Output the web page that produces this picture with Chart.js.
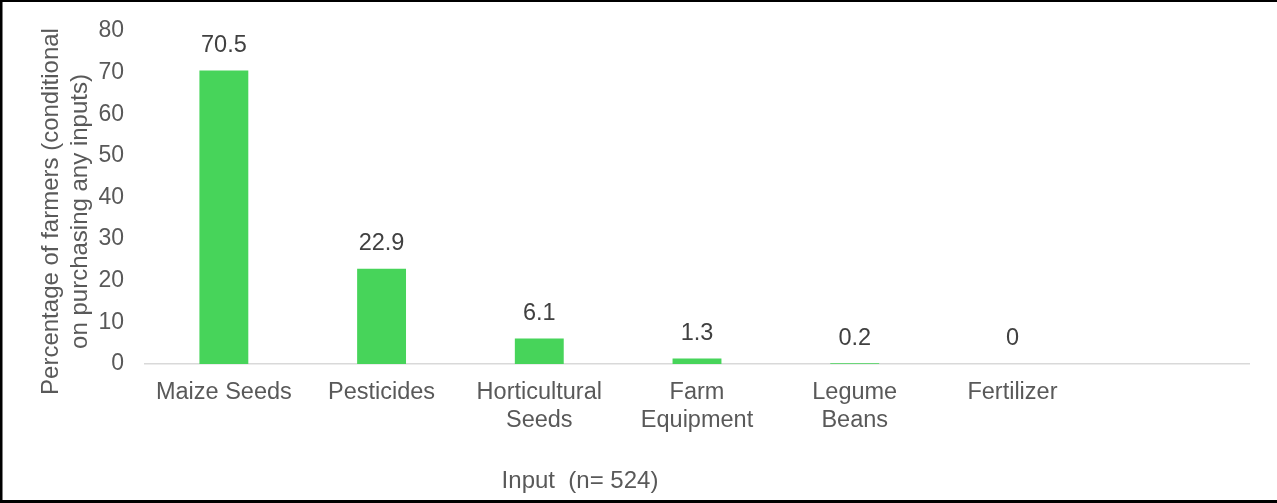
<!DOCTYPE html>
<html>
<head>
<meta charset="utf-8">
<title>Inputs purchased by farmers</title>
<script src="https://cdn.jsdelivr.net/npm/chart.js@4/dist/chart.umd.min.js"></script>
<style>
  html, body { margin: 0; padding: 0; background: #fff; }
  canvas { display: block; }
</style>
</head>
<body>
<canvas id="inputChart" width="1277" height="503"></canvas>
<script>
// Share of farmers buying each input (conditional on buying any)
const categories = ['Maize Seeds', 'Pesticides', ['Horticultural', 'Seeds'], ['Farm', 'Equipment'], ['Legume', 'Beans'], 'Fertilizer', ''];
const percentages = [70.5, 22.9, 6.1, 1.3, 0.2, 0, null];
const yTitleLines = ['Percentage of farmers (conditional', 'on purchasing any inputs)'];
const xTitle = 'Input  (n= 524)';

const FONT = '"Liberation Sans", Arial, sans-serif';
const BAR_GREEN = '#47D45A';
const TEXT_GREY = '#595959';

// white page + black frame (top, left, bottom)
const framePlugin = {
    id: 'frame',
    beforeDraw(chart) {
        const ctx = chart.ctx;
        ctx.save();
        ctx.fillStyle = '#ffffff';
        ctx.fillRect(0, 0, chart.width, chart.height);
        ctx.restore();
    },
    afterDraw(chart) {
        const ctx = chart.ctx;
        ctx.save();
        ctx.fillStyle = '#000000';
        ctx.fillRect(0, 0, chart.width, 2);
        ctx.fillRect(0, 0, 2.5, chart.height);
        ctx.fillRect(0, chart.height - 3, chart.width, 3);
        ctx.restore();
    }
};

// value printed above each bar
const valueLabels = {
    id: 'valueLabels',
    afterDatasetsDraw(chart) {
        const ctx = chart.ctx;
        const meta = chart.getDatasetMeta(0);
        ctx.save();
        ctx.font = '23.5px ' + FONT;
        ctx.fillStyle = '#404040';
        ctx.textAlign = 'center';
        ctx.textBaseline = 'middle';
        meta.data.forEach((bar, i) => {
            const v = percentages[i];
            if (v === null || v === undefined) return;
            ctx.fillText(String(v), bar.x, bar.y - 25);
        });
        ctx.restore();
    }
};

// axis titles drawn by hand so they can sit off-centre like the original layout
const axisTitles = {
    id: 'axisTitles',
    afterDraw(chart) {
        const ctx = chart.ctx;
        const area = chart.chartArea;
        ctx.save();
        ctx.font = '24px ' + FONT;
        ctx.fillStyle = TEXT_GREY;
        ctx.textAlign = 'center';
        ctx.textBaseline = 'middle';

        const midY = (area.top + area.bottom) / 2 + 14;
        ctx.save();
        ctx.translate(51, midY);
        ctx.rotate(-Math.PI / 2);
        ctx.fillText(yTitleLines[0], 0, 0);
        ctx.fillText(yTitleLines[1], 0, 29);
        ctx.restore();

        ctx.fillText(xTitle, 580, 481);
        ctx.restore();
    }
};

new Chart(document.getElementById('inputChart'), {
    type: 'bar',
    data: {
        labels: categories,
        datasets: [{
            data: percentages,
            backgroundColor: BAR_GREEN,
            borderWidth: 0,
            categoryPercentage: 1,
            barPercentage: 0.31
        }]
    },
    options: {
        responsive: false,
        animation: false,
        layout: { padding: { top: 31, right: 28, left: 0, bottom: 0 } },
        plugins: {
            legend: { display: false },
            tooltip: { enabled: false }
        },
        scales: {
            x: {
                grid: { display: false, drawTicks: false },
                border: { display: true, color: '#d9d9d9', width: 1.5 },
                ticks: {
                    color: TEXT_GREY,
                    font: { family: FONT, size: 23.5, lineHeight: 1.2 },
                    padding: 14,
                    maxRotation: 0,
                    autoSkip: false
                },
                afterFit(scale) { scale.height = 139; }
            },
            y: {
                min: 0,
                max: 80,
                grid: { display: false, drawTicks: false, tickLength: 0 },
                border: { display: false },
                ticks: {
                    stepSize: 10,
                    color: TEXT_GREY,
                    font: { family: FONT, size: 23 },
                    padding: 21
                },
                afterFit(scale) {
                    scale.width = 145;
                    // keep the tick padding from pushing the plot area down
                    scale.paddingTop = 0;
                    scale.paddingBottom = 0;
                }
            }
        }
    },
    plugins: [framePlugin, valueLabels, axisTitles]
});
</script>
</body>
</html>
